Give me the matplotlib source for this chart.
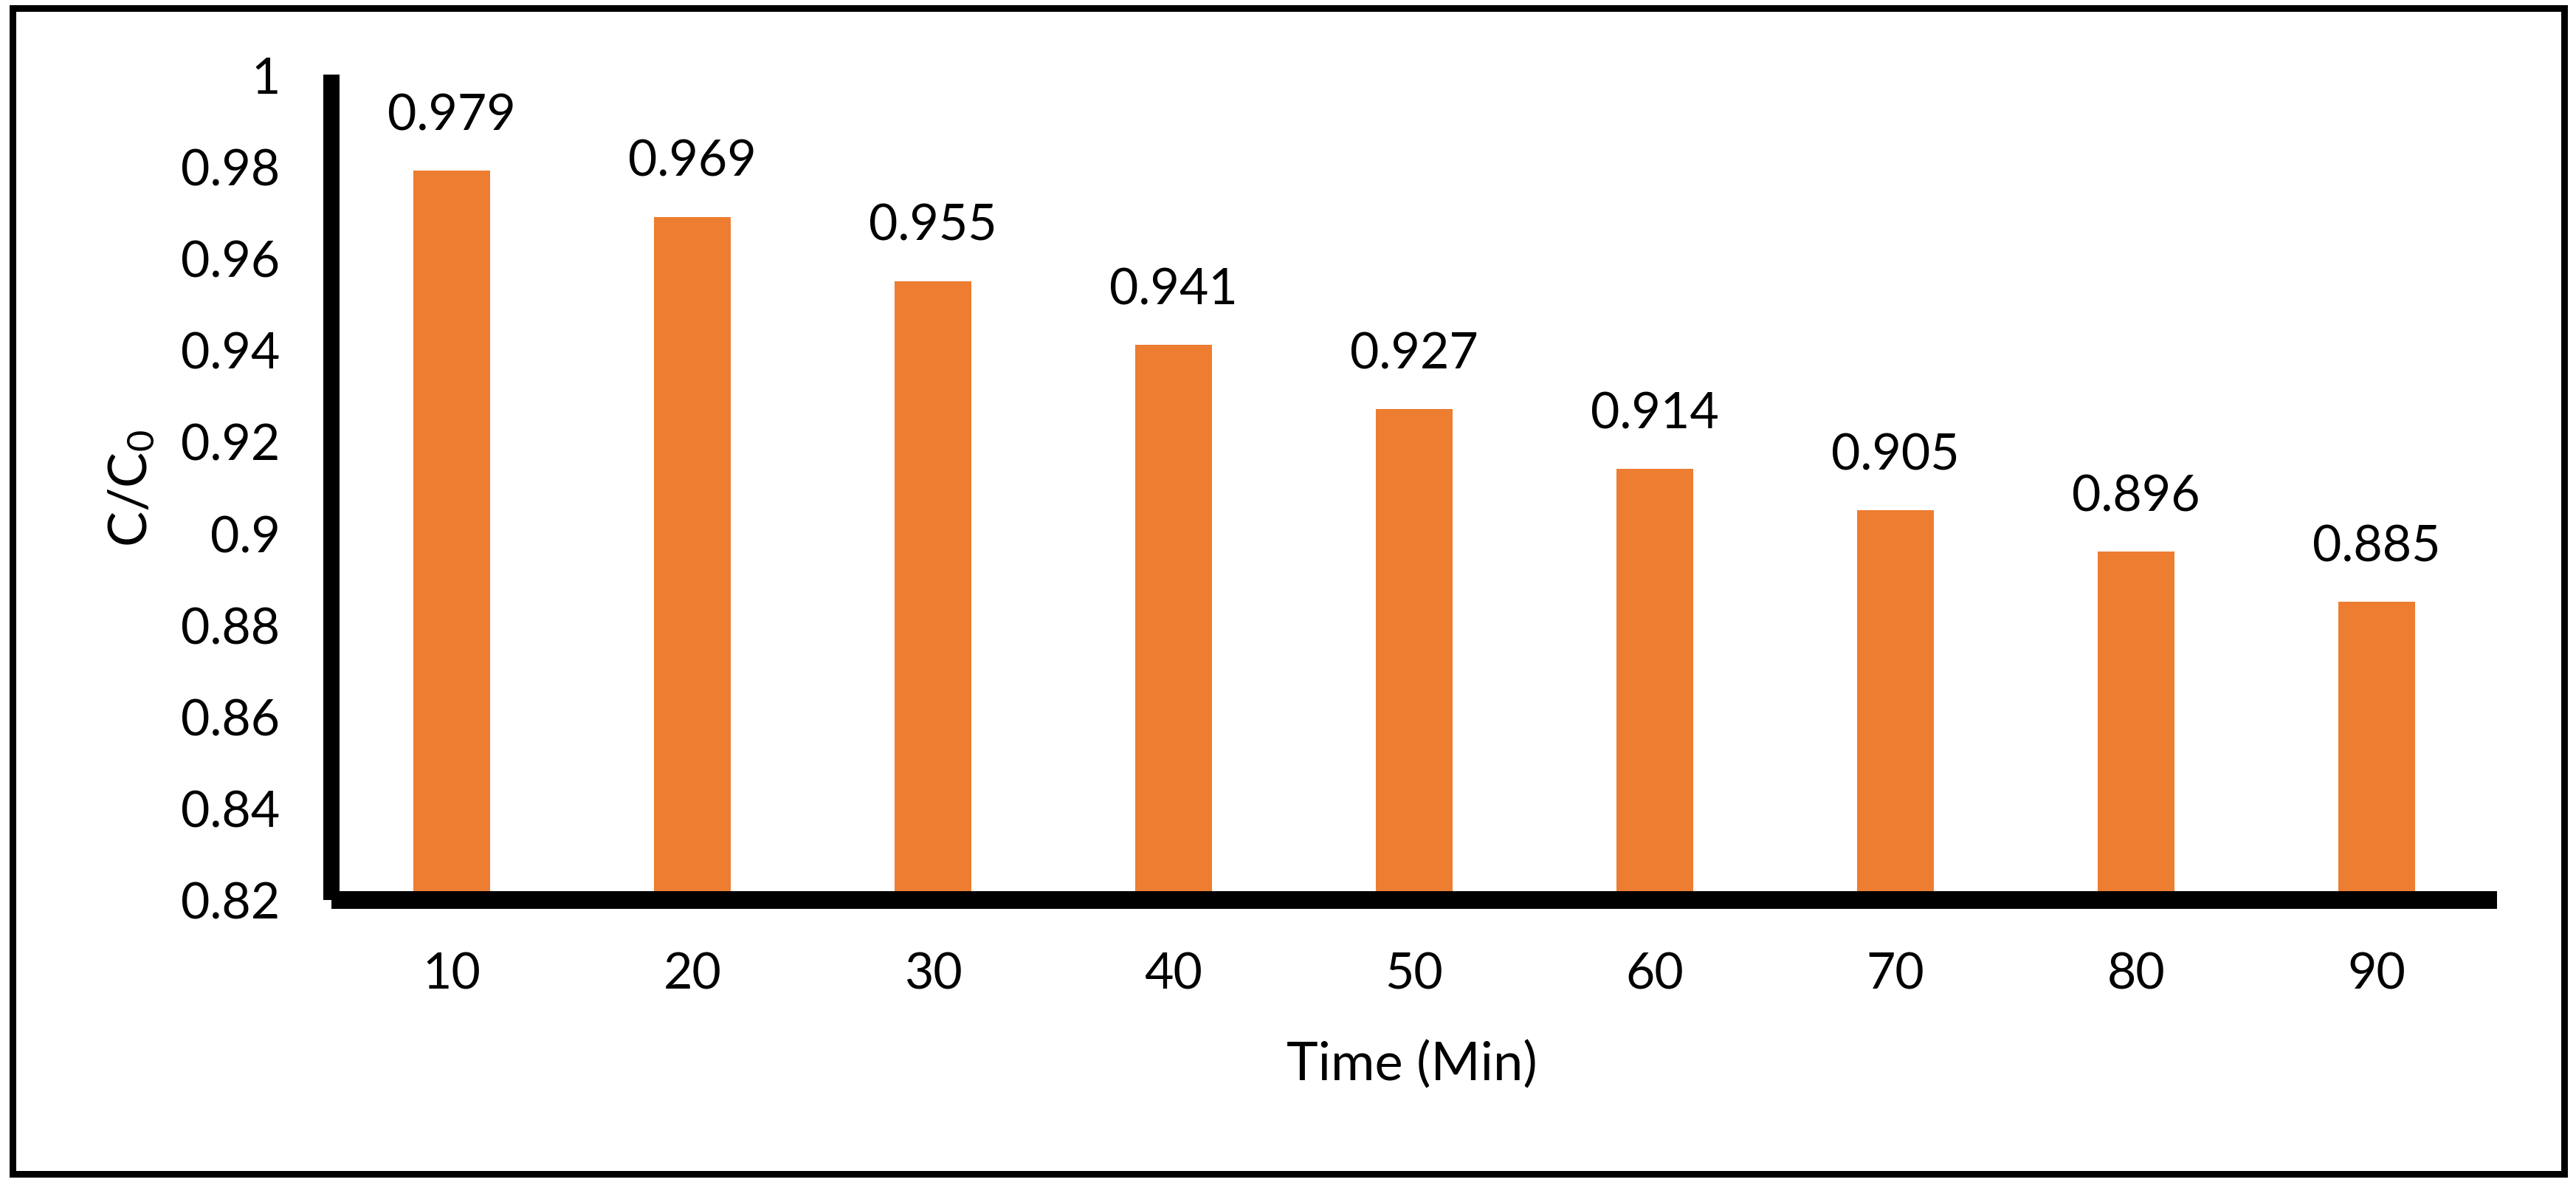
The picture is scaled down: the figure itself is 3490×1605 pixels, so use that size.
import matplotlib
matplotlib.use("Agg")
import matplotlib.pyplot as plt
from matplotlib.patches import Rectangle

times = ["10", "20", "30", "40", "50", "60", "70", "80", "90"]
ratios = [0.979, 0.969, 0.955, 0.941, 0.927, 0.914, 0.905, 0.896, 0.885]
y_ticks = [0.82, 0.84, 0.86, 0.88, 0.90, 0.92, 0.94, 0.96, 0.98, 1.00]
y_tick_labels = ["0.82", "0.84", "0.86", "0.88", "0.9", "0.92", "0.94", "0.96", "0.98", "1"]

plt.rcParams['font.family'] = ['Lato', 'DejaVu Sans']
plt.rcParams['mathtext.default'] = 'regular'

W, H, DPI = 3491, 1606, 200
PT = 72 / DPI
fig = plt.figure(figsize=(W / DPI, H / DPI), dpi=DPI)
ax = fig.add_axes([449 / W, 1 - 1220 / H, (3383 - 449) / W, (1220 - 102) / H])

x = list(range(len(times)))
ax.bar(x, [r - 0.82 for r in ratios], bottom=0.82, width=0.318,
       color="#ED7D31", zorder=2)

for xi, r in zip(x, ratios):
    ax.annotate(f"{r:.3f}", xy=(xi, r), xytext=(0, 20), textcoords="offset points",
                ha="center", va="baseline", fontsize=24.5, color="black")

ax.set_xlim(-0.5, len(times) - 0.5)
ax.set_ylim(0.82, 1.0)
ax.set_yticks(y_ticks)
ax.set_yticklabels(y_tick_labels)
ax.set_xticks(x)
ax.set_xticklabels(times)
ax.tick_params(axis="both", length=0, labelsize=24.5, pad=25)

for s in ["top", "right"]:
    ax.spines[s].set_visible(False)
ax.spines["left"].set_linewidth(22 * PT)
ax.spines["bottom"].set_linewidth(24 * PT)
for s in ["left", "bottom"]:
    ax.spines[s].set_capstyle("butt")
    ax.spines[s].set_color("black")
    ax.spines[s].set_zorder(3)

ax.set_xlabel("Time (Min)", fontsize=26, va="baseline")
ax.xaxis.set_label_coords((1913 - 449) / 2934, (1220 - 1463) / 1118)

ax.set_ylabel("C/C$_0$", fontsize=26)
ylab = ax.yaxis.label
ylab.set_rotation_mode("anchor")
ylab.set_ha("center")
ylab.set_va("baseline")
ax.yaxis.set_label_coords((199 - 449) / 2934, (1220 - 661) / 1118)

border = Rectangle((17 / W, 1 - 1590.5 / H), (3474.5 - 17) / W, (1590.5 - 11.5) / H,
                   transform=fig.transFigure, fill=False, edgecolor="black",
                   linewidth=9 * PT, zorder=10)
fig.patches.append(border)

fig.savefig("out.png", dpi=DPI, facecolor="white")
